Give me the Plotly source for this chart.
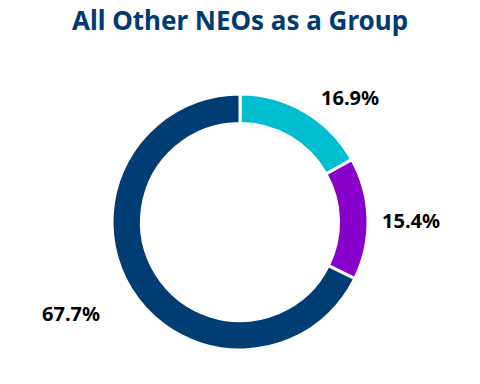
import plotly.graph_objects as go

labels = ["Segment A", "Segment B", "Segment C"]
values = [16.9, 15.4, 67.7]
colors = ["#00BDCF", "#8700CB", "#003D75"]
title_text = "All Other NEOs as a Group"

# label anchor positions (pixels in 480x384 canvas)
label_px = [(350, 97), (411, 220), (71, 313)]

W, H = 480, 384

fig = go.Figure(go.Pie(
    labels=labels,
    values=values,
    hole=0.77,
    sort=False,
    direction="clockwise",
    rotation=0,
    marker=dict(colors=colors, line=dict(color="white", width=3)),
    textinfo="none",
    hoverinfo="label+percent",
    domain=dict(x=[112 / W, 368 / W], y=[(H - 350) / H, (H - 94) / H]),
    showlegend=False,
))

for v, (px, py) in zip(values, label_px):
    fig.add_annotation(
        x=px / W, y=1 - py / H, xref="paper", yref="paper",
        text=f"{v:.1f}%", showarrow=False,
        font=dict(family="Noto Sans", size=20, color="#000000", weight="bold"),
        xanchor="center", yanchor="middle",
    )

fig.update_layout(
    width=W, height=H,
    margin=dict(l=0, r=0, t=0, b=0),
    paper_bgcolor="white", plot_bgcolor="white",
    title=dict(
        text=f"<b>{title_text}</b>",
        x=0.5, xanchor="center", y=1 - 21 / H, yanchor="middle",
        font=dict(family="Noto Sans", size=26, color="#003B71"),
    ),
)

fig.write_html("out.html")
